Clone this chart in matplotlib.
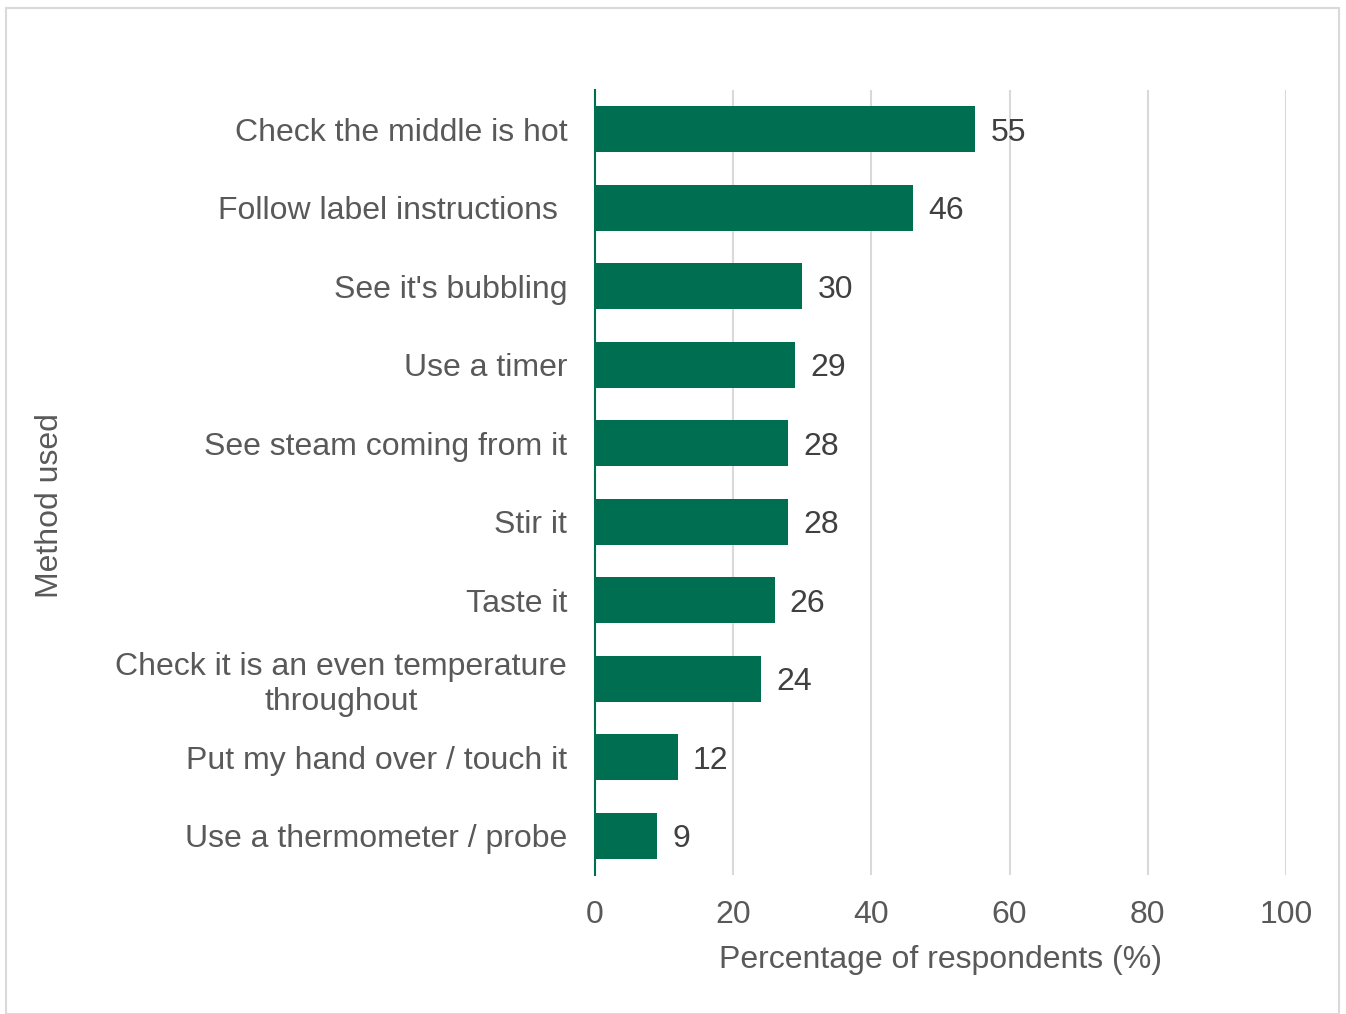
import matplotlib.pyplot as plt
from matplotlib.patches import Rectangle

plt.rcParams['font.family'] = ['Liberation Sans', 'DejaVu Sans']

methods = [
    "Check the middle is hot",
    "Follow label instructions ",
    "See it's bubbling",
    "Use a timer",
    "See steam coming from it",
    "Stir it",
    "Taste it",
    "Check it is an even temperature\nthroughout",
    "Put my hand over / touch it",
    "Use a thermometer / probe",
]
percent = [55, 46, 30, 29, 28, 28, 26, 24, 12, 9]

bar_green = '#006f51'
grey_text = '#595959'
fsize = 23

fig = plt.figure(figsize=(13.46, 10.14), dpi=100)
ax = fig.add_axes([595 / 1346, 1 - 875 / 1014, 691 / 1346, 785 / 1014])

ypos = list(range(len(methods)))
ax.barh(ypos, percent, height=0.59, color=bar_green, zorder=3)
for y, v in zip(ypos, percent):
    ax.text(v + 2.2, y, str(v), va='center_baseline', ha='left',
            fontsize=fsize, color='#404040')

ax.set_xlim(0, 100)
ax.set_ylim(len(methods) - 0.5, -0.5)
ax.set_xticks(range(0, 101, 20))
ax.set_yticks(ypos)
ax.set_yticklabels(methods)
for lbl in ax.get_yticklabels():
    lbl.set_multialignment('center')

ax.tick_params(axis='both', length=0, labelsize=fsize, labelcolor=grey_text)
ax.tick_params(axis='y', pad=20)
ax.tick_params(axis='x', pad=18)
ax.grid(axis='x', color='#d9d9d9', linewidth=1.5, zorder=0)

for side in ('top', 'right', 'bottom'):
    ax.spines[side].set_visible(False)
ax.spines['left'].set_color(bar_green)
ax.spines['left'].set_linewidth(1.5)
ax.spines['left'].set_zorder(4)

ax.set_xlabel('Percentage of respondents (%)', fontsize=fsize,
              color=grey_text, labelpad=11)
fig.text(50 / 1346, 1 - 506 / 1014, 'Method used', rotation=90,
         fontsize=fsize, color=grey_text, ha='center', va='center')

# light frame around the whole chart
fig.patches.append(Rectangle((6 / 1346, 0.5 / 1014), 1333 / 1346,
                             (1014 - 8.5) / 1014, transform=fig.transFigure,
                             fill=False, edgecolor='#d9d9d9', linewidth=1.5))

fig.savefig('out.png', dpi=100)
